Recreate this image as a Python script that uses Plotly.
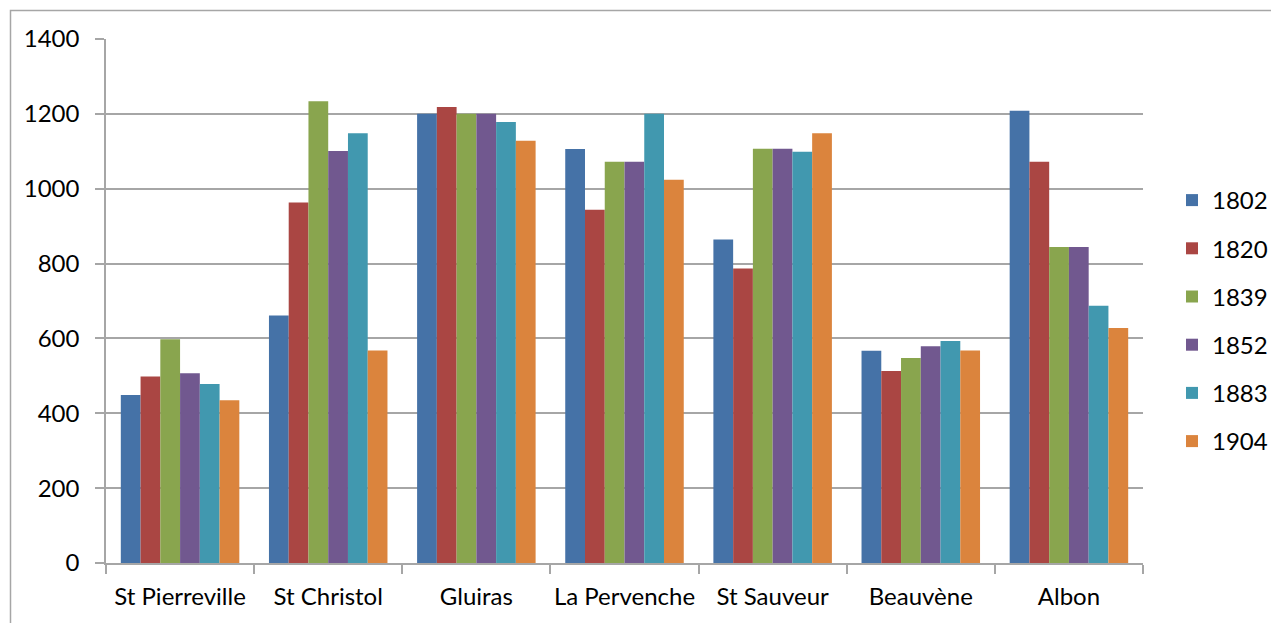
import plotly.graph_objects as go

categories = ["St Pierreville", "St Christol", "Gluiras", "La Pervenche",
              "St Sauveur", "Beauvène", "Albon"]
years = ["1802", "1820", "1839", "1852", "1883", "1904"]

v1802 = [449, 661, 1200, 1106, 864, 567, 1208]
v1820 = [498, 963, 1218, 944, 787, 513, 1072]
v1839 = [598, 1234, 1200, 1072, 1107, 548, 844]
v1852 = [507, 1101, 1200, 1072, 1107, 579, 844]
v1883 = [478, 1148, 1178, 1200, 1099, 593, 687]
v1904 = [435, 568, 1128, 1024, 1148, 568, 628]

series = [v1802, v1820, v1839, v1852, v1883, v1904]
colors = ["#4572A7", "#AA4643", "#89A54E", "#71588F", "#4198AF", "#DB843D"]

FONT = "Lato"
FS = 24
GRID = "#a6a6a6"
OFF = 8  # page body margin

fig = go.Figure()
for name, vals, col in zip(years, series, colors):
    fig.add_trace(go.Bar(
        x=categories, y=vals, name=name, legendgroup=name,
        marker=dict(color=col, line=dict(width=0)),
    ))

W, H = 1279 - OFF, 623 - OFF
# plot area in page pixels: x 106..1143, y 39..563
L = 106 - OFF
T = 39 - OFF
R = W - (1143 - OFF)
B = H - (563 - OFF)
pw = W - L - R
ph = H - T - B

def px_x(p):
    return (p - OFF - L) / pw

def px_y(p):
    return 1 - (p - OFF - T) / ph

fig.update_layout(
    width=W, height=H,
    margin=dict(l=L, r=R, t=T, b=B, autoexpand=False),
    paper_bgcolor="white", plot_bgcolor="white",
    barmode="group", bargap=0.2, bargroupgap=0,
    font=dict(family=FONT, size=FS, color="#000000"),
    showlegend=True,
    legend=dict(
        x=px_x(1172), y=px_y(178), xanchor="left", yanchor="top",
        font=dict(family=FONT, size=FS, color="#000000"),
        tracegroupgap=14, itemwidth=30,
        bgcolor="rgba(0,0,0,0)",
    ),
    xaxis=dict(
        showline=True, linecolor=GRID, linewidth=1.5,
        ticks="outside", tickson="boundaries", ticklen=9, tickcolor=GRID, tickwidth=1.5,
        showgrid=False, ticklabelstandoff=11, tickangle=0,
        tickfont=dict(family=FONT, size=FS, color="#000000"),
    ),
    yaxis=dict(
        range=[0, 1400], dtick=200, tick0=0,
        showline=True, linecolor=GRID, linewidth=1.5,
        ticks="outside", ticklen=9, tickcolor=GRID, tickwidth=1.5,
        showgrid=True, gridcolor=GRID, gridwidth=1.5,
        zeroline=False, ticklabelstandoff=11,
        tickfont=dict(family=FONT, size=FS, color="#000000"),
    ),
    shapes=[dict(
        type="rect", xref="paper", yref="paper",
        x0=px_x(10.5), x1=px_x(1300), y0=px_y(660), y1=px_y(10.5),
        line=dict(color=GRID, width=1.5), fillcolor="rgba(0,0,0,0)", layer="below",
    )],
)

fig.write_html("out.html")
